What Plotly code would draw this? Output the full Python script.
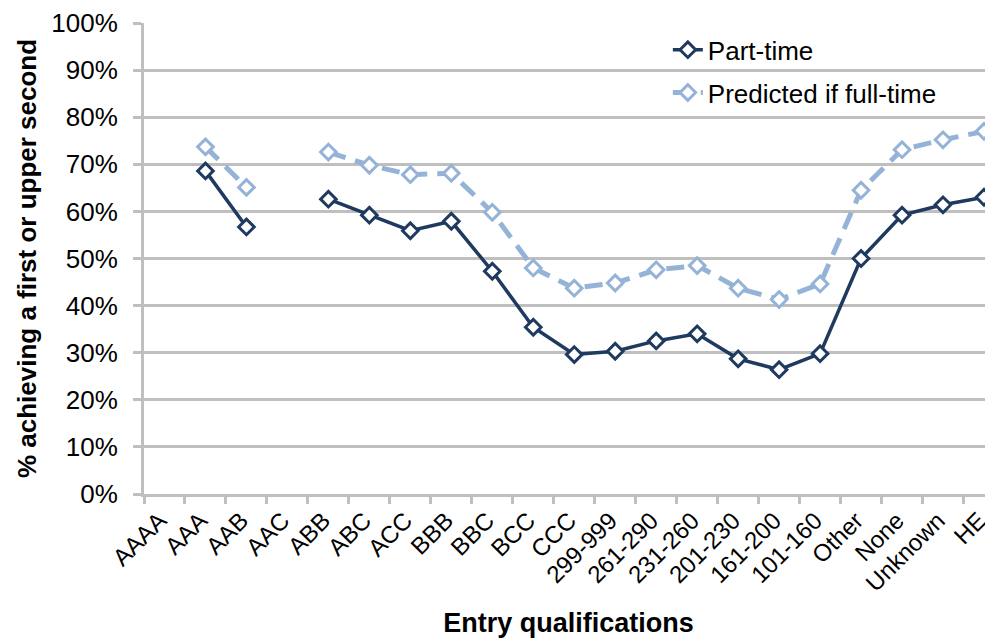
import plotly.graph_objects as go

categories = ["AAAA", "AAA", "AAB", "AAC", "ABB", "ABC", "ACC", "BBB", "BBC", "BCC",
              "CCC", "299-999", "261-290", "231-260", "201-230", "161-200", "101-160",
              "Other", "None", "Unknown", "HE"]

part_time = [None, 0.686, 0.567, None, 0.626, 0.592, 0.559, 0.579, 0.473, 0.354,
             0.296, 0.303, 0.325, 0.340, 0.287, 0.264, 0.298, 0.500, 0.592, 0.614, 0.630]

predicted_full_time = [None, 0.737, 0.651, None, 0.726, 0.698, 0.678, 0.681, 0.598, 0.480,
                       0.437, 0.448, 0.476, 0.485, 0.437, 0.413, 0.446, 0.645, 0.731, 0.752, 0.770]

y_ticks = [i / 10 for i in range(11)]

DARK = "#1F3A5F"
LIGHT = "#95B3D7"
GRID = "#BFBFBF"
FONT = "Liberation Sans, Arial, sans-serif"

fig = go.Figure()
fig.add_trace(go.Scatter(
    x=categories, y=part_time, name="Part-time", mode="lines+markers",
    line=dict(color=DARK, width=3.5),
    marker=dict(symbol="diamond", size=12, color="white", line=dict(color=DARK, width=3)),
    legendgroup="a",
))
fig.add_trace(go.Scatter(
    x=categories, y=predicted_full_time, name="Predicted if full-time", mode="lines+markers",
    line=dict(color=LIGHT, width=5, dash="18px,10px"),
    marker=dict(symbol="diamond", size=12, color="white", line=dict(color=LIGHT, width=3)),
    legendgroup="b",
))

# page body has an 8px default margin, so the figure is 985x636 and offset accordingly
fig.update_layout(
    width=985, height=636,
    margin=dict(l=135.5, r=0, t=15.3, b=149.7, pad=0),
    paper_bgcolor="white", plot_bgcolor="white",
    font=dict(family=FONT, color="black", size=25),
    showlegend=True,
    legend=dict(
        x=0.617, y=0.993, xanchor="left", yanchor="top",
        font=dict(size=26, family=FONT), bgcolor="rgba(0,0,0,0)",
        traceorder="grouped", tracegroupgap=6,
    ),
    xaxis=dict(
        type="category", categoryorder="array", categoryarray=categories,
        range=[-0.5, 20.22], tickson="boundaries", automargin=False,
        showgrid=False, showline=True, linecolor=GRID, linewidth=3,
        ticks="outside", ticklen=7, tickwidth=3, tickcolor=GRID,
        tickangle=-45, tickfont=dict(size=24, family=FONT), ticklabelshift=-5,
        title=dict(text="<b>Entry qualifications</b>", font=dict(size=27, family=FONT), standoff=18),
        zeroline=False,
    ),
    yaxis=dict(
        range=[0, 1], tickvals=y_ticks, tickformat=".0%", automargin=False,
        showgrid=True, gridcolor=GRID, gridwidth=3,
        showline=True, linecolor=GRID, linewidth=3,
        ticks="outside", ticklen=8, tickwidth=3, tickcolor=GRID,
        tickfont=dict(size=26, family=FONT), ticklabelstandoff=10,
        title=dict(text="<b>% achieving a first or upper second</b>", font=dict(size=26, family=FONT), standoff=8),
        zeroline=False,
    ),
)

fig.write_html("out.html")
